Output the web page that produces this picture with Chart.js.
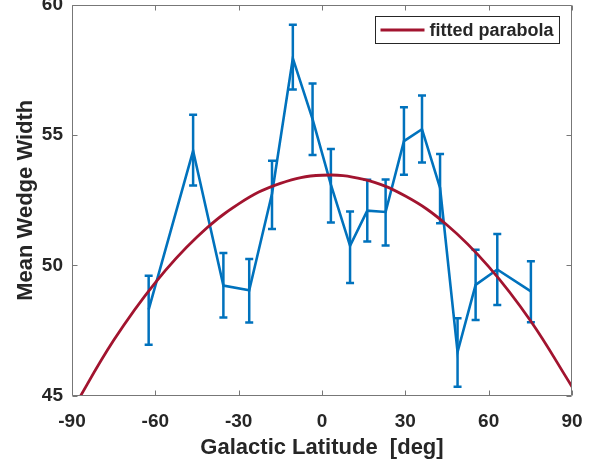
<!DOCTYPE html>
<html>
<head>
<meta charset="utf-8">
<script src="https://cdn.jsdelivr.net/npm/chart.js@4"></script>
<style>
  html, body { margin: 0; padding: 0; background: #fff; }
  canvas { display: block; }
</style>
</head>
<body>
<canvas id="chart" width="597" height="459"></canvas>
<script>
// measured wedge widths with their error bar ends
var latitude = [-62.4, -46.4, -35.5, -26.2, -18.0, -10.5, -3.4, 3.2, 10.1, 16.3, 22.9, 29.5, 36.0, 42.5, 48.8, 55.3, 63.1, 75.2];
var wedgeWidth = [48.3, 54.4, 49.22, 49.04, 52.75, 57.95, 55.62, 53.1, 50.75, 52.1, 52.05, 54.77, 55.23, 52.98, 46.67, 49.25, 49.84, 49.0];
var errTop = [49.6, 55.78, 50.47, 50.24, 54.02, 59.24, 56.98, 54.47, 52.07, 53.29, 53.3, 56.07, 56.52, 54.28, 47.97, 50.6, 51.2, 50.16];
var errBottom = [46.95, 53.07, 48.0, 47.8, 51.4, 56.75, 54.24, 51.65, 49.32, 50.92, 50.76, 53.48, 53.95, 51.62, 45.34, 47.9, 48.48, 47.81];

// fitted parabola, every 15 deg
var fitLatitude = [-90, -75, -60, -45, -30, -15, 0, 15, 30, 45, 60, 75, 90];
var fitWidth = [44.42, 47.12, 49.34, 51.09, 52.36, 53.15, 53.46, 53.3, 52.66, 51.55, 49.95, 47.88, 45.34];

var xTicks = [-90, -60, -30, 0, 30, 60, 90];
var yTicks = [45, 50, 55, 60];

var BLUE = '#0072BD';
var RED = '#A2142F';
var TEXT = '#262626';
var FONT = '"Liberation Sans", Arial, Helvetica, sans-serif';

function pairs(xs, ys) {
  return xs.map(function (x, i) { return { x: x, y: ys[i] }; });
}

var errorBars = {
  id: 'errorBars',
  beforeDatasetsDraw: function (chart) {
    var ctx = chart.ctx;
    var xs = chart.scales.x, ys = chart.scales.y;
    ctx.save();
    ctx.strokeStyle = BLUE;
    ctx.lineWidth = 2.5;
    latitude.forEach(function (lat, i) {
      var px = xs.getPixelForValue(lat);
      var top = ys.getPixelForValue(errTop[i]);
      var bot = ys.getPixelForValue(errBottom[i]);
      ctx.beginPath();
      ctx.moveTo(px, top);
      ctx.lineTo(px, bot);
      ctx.moveTo(px - 4, top);
      ctx.lineTo(px + 4, top);
      ctx.moveTo(px - 4, bot);
      ctx.lineTo(px + 4, bot);
      ctx.stroke();
    });
    ctx.restore();
  }
};

var axesBox = {
  id: 'axesBox',
  afterDraw: function (chart) {
    var ctx = chart.ctx, a = chart.chartArea;
    var xs = chart.scales.x, ys = chart.scales.y;
    var l = Math.round(a.left) + 0.5, r = Math.round(a.right) - 0.5;
    var t = Math.round(a.top) + 0.5, b = Math.round(a.bottom) - 0.5;
    ctx.save();
    ctx.strokeStyle = '#777777';
    ctx.lineWidth = 1;
    ctx.beginPath();
    ctx.rect(l, t, r - l, b - t);
    xTicks.forEach(function (v) {
      var px = Math.round(xs.getPixelForValue(v)) + 0.5;
      ctx.moveTo(px, b); ctx.lineTo(px, b - 5);
      ctx.moveTo(px, t); ctx.lineTo(px, t + 5);
    });
    yTicks.forEach(function (v) {
      var py = Math.round(ys.getPixelForValue(v)) + 0.5;
      ctx.moveTo(l, py); ctx.lineTo(l + 5, py);
      ctx.moveTo(r, py); ctx.lineTo(r - 5, py);
    });
    ctx.stroke();
    ctx.restore();
  }
};

var legendBox = {
  id: 'legendBox',
  afterDraw: function (chart) {
    var ctx = chart.ctx, a = chart.chartArea;
    var ds = chart.data.datasets[0];
    ctx.save();
    ctx.font = 'bold 18px ' + FONT;
    var textW = ctx.measureText(ds.label).width;
    var w = Math.round(textW + 60), h = 27;
    var x = Math.round(a.right - 13 - w) + 0.5, y = Math.round(a.top + 11) + 0.5;
    ctx.fillStyle = '#ffffff';
    ctx.fillRect(x, y, w, h);
    ctx.strokeStyle = '#262626';
    ctx.lineWidth = 1;
    ctx.strokeRect(x, y, w, h);
    ctx.strokeStyle = ds.borderColor;
    ctx.lineWidth = ds.borderWidth;
    ctx.beginPath();
    ctx.moveTo(x + 5, y + h / 2);
    ctx.lineTo(x + 49, y + h / 2);
    ctx.stroke();
    ctx.fillStyle = TEXT;
    ctx.textBaseline = 'middle';
    ctx.fillText(ds.label, x + 54, y + h / 2 + 1);
    ctx.restore();
  }
};

new Chart(document.getElementById('chart'), {
  type: 'line',
  data: {
    datasets: [
      {
        label: 'fitted parabola',
        data: pairs(fitLatitude, fitWidth),
        borderColor: RED,
        borderWidth: 2.8,
        pointRadius: 0,
        tension: 0.4,
        order: 0
      },
      {
        label: 'mean wedge width',
        data: pairs(latitude, wedgeWidth),
        borderColor: BLUE,
        borderWidth: 2.6,
        pointRadius: 0,
        tension: 0,
        order: 1
      }
    ]
  },
  options: {
    responsive: false,
    animation: false,
    devicePixelRatio: 1,
    layout: { padding: { top: 5, right: 25, left: 0, bottom: 0 } },
    plugins: {
      legend: { display: false },
      tooltip: { enabled: false }
    },
    scales: {
      x: {
        type: 'linear',
        min: -90,
        max: 90,
        grid: { display: false, drawTicks: false },
        border: { display: false },
        ticks: {
          stepSize: 30,
          padding: 15,
          maxRotation: 0,
          color: TEXT,
          font: { family: FONT, size: 19, weight: 'bold' }
        },
        title: {
          display: true,
          text: 'Galactic Latitude  [deg]',
          color: TEXT,
          padding: 0,
          font: { family: FONT, size: 22, weight: 'bold', lineHeight: 1 }
        },
        afterFit: function (scale) {
          scale.height = 63.5;
          scale.paddingLeft = 0;
          scale.paddingRight = 0;
        }
      },
      y: {
        type: 'linear',
        min: 45,
        max: 60,
        grid: { display: false, drawTicks: false },
        border: { display: false },
        ticks: {
          stepSize: 5,
          padding: 9,
          color: TEXT,
          font: { family: FONT, size: 19, weight: 'bold' }
        },
        title: {
          display: true,
          text: 'Mean Wedge Width',
          color: TEXT,
          padding: { top: 15, bottom: 0 },
          font: { family: FONT, size: 22, weight: 'bold', lineHeight: 1 }
        },
        afterFit: function (scale) {
          scale.width = 72;
          scale.paddingTop = 0;
          scale.paddingBottom = 0;
        }
      }
    }
  },
  plugins: [errorBars, axesBox, legendBox]
});
</script>
</body>
</html>
